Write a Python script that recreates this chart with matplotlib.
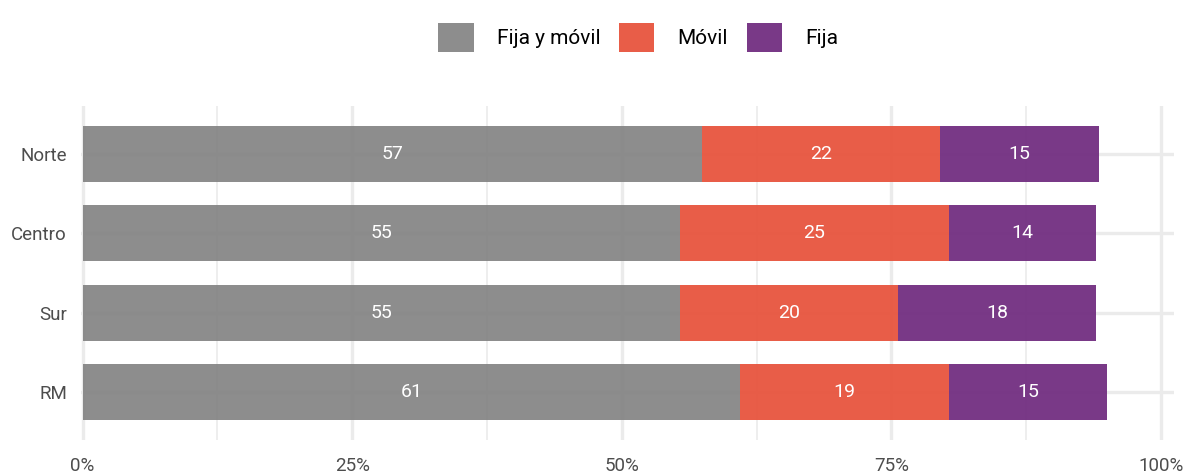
import matplotlib.pyplot as plt
import numpy as np
from matplotlib.patches import Patch

plt.rcParams['font.family'] = ['Roboto', 'DejaVu Sans']

regions = ['Norte', 'Centro', 'Sur', 'RM']
series = ['Fija y móvil', 'Móvil', 'Fija']
fija_movil = [57.4, 55.4, 55.4, 61.0]
movil = [22.1, 24.9, 20.2, 19.3]
fija = [14.7, 13.7, 18.4, 14.7]
colors = ['#848484', '#e7513a', '#6f2a7e']
ticks = [0, 25, 50, 75, 100]
tick_labels = ['0%', '25%', '50%', '75%', '100%']

fig = plt.figure(figsize=(11.86, 4.73), dpi=100)
ax = fig.add_axes([81 / 1186, 1 - 440 / 473, (1174 - 81) / 1186, (440 - 106) / 473])

y = np.arange(len(regions))[::-1]
left = np.zeros(len(regions))
for vals, col in zip([fija_movil, movil, fija], colors):
    vals = np.array(vals)
    ax.barh(y, vals, left=left, height=0.7, color=col, alpha=0.93, zorder=3, linewidth=0)
    for yi, l, v in zip(y, left, vals):
        ax.text(l + v / 2, yi, f'{round(v):d}', ha='center', va='center',
                color='white', fontsize=14, zorder=4)
    left = left + vals

ax.set_xlim(-0.15, 101.2)
ax.set_ylim(-0.6, len(regions) - 0.4)
ax.set_yticks(y)
ax.set_yticklabels(regions)
ax.set_xticks(ticks)
ax.set_xticklabels(tick_labels)
ax.set_xticks(np.arange(12.5, 100, 25), minor=True)
ax.tick_params(axis='both', length=0, labelsize=13.5, colors='#4d4d4d', pad=10)
ax.tick_params(axis='x', pad=12)
ax.tick_params(which='minor', length=0)
ax.grid(axis='x', which='major', color='#ebebeb', linewidth=2.4, zorder=0)
ax.grid(axis='x', which='minor', color='#ebebeb', linewidth=1.2, zorder=0)
ax.grid(axis='y', which='major', color='#ebebeb', linewidth=2.4, zorder=0)
for s in ax.spines.values():
    s.set_visible(False)

handles = [Patch(facecolor=c, edgecolor='none', alpha=0.93) for c in colors]
fig.legend(handles, series, loc='upper center', bbox_to_anchor=(0.538, 0.99), ncol=3,
           frameon=False, fontsize=15, handlelength=1.7, handleheight=1.7,
           columnspacing=0.9, handletextpad=1.1)

fig.savefig('out.png', dpi=100)
